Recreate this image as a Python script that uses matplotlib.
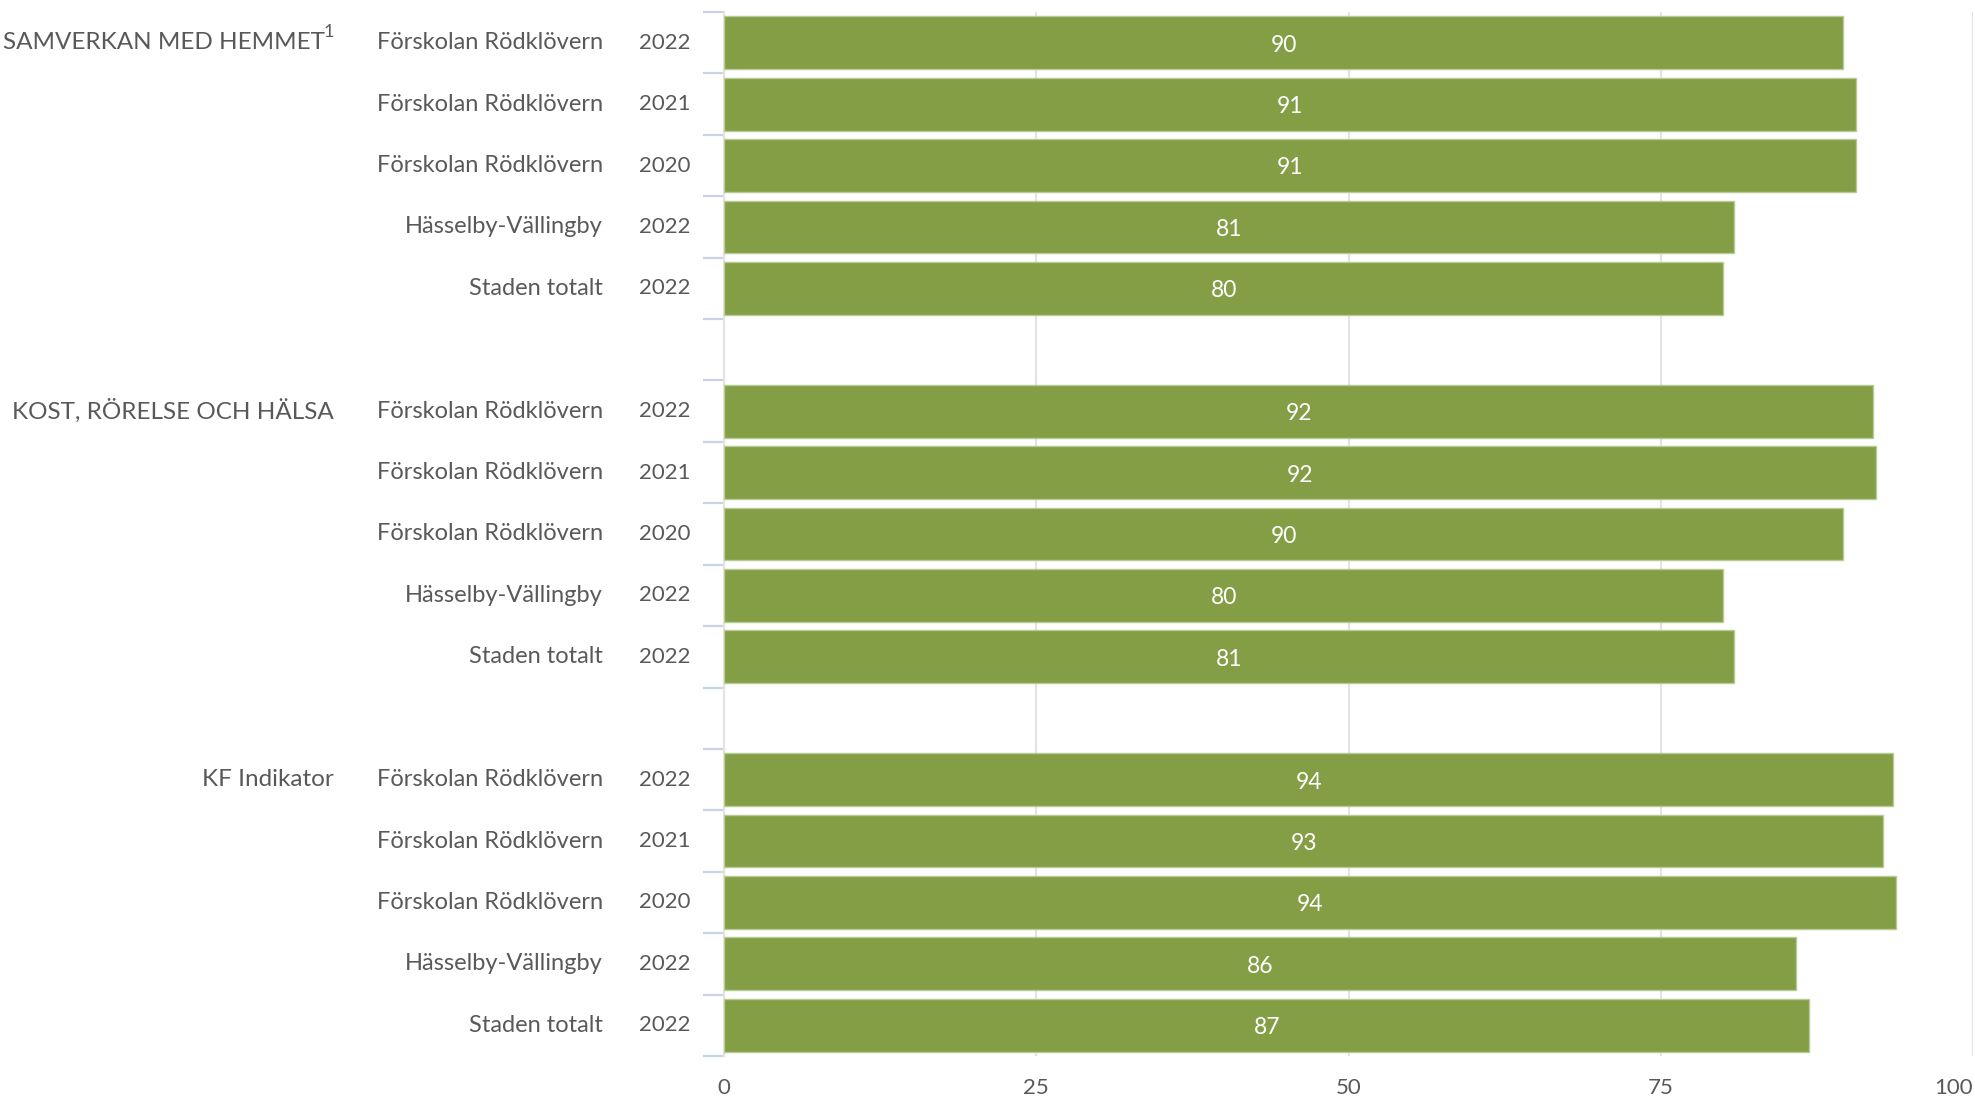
import numpy as np
import matplotlib
matplotlib.use("Agg")
import matplotlib.pyplot as plt
from matplotlib.transforms import blended_transform_factory

plt.rcParams['font.family'] = ['Lato', 'DejaVu Sans']

# data
groups = ["SAMVERKAN MED HEMMET", "KOST, RÖRELSE OCH HÄLSA", "KF Indikator"]
units = ["Förskolan Rödklövern", "Förskolan Rödklövern", "Förskolan Rödklövern",
         "Hässelby-Vällingby", "Staden totalt"]
years = ["2022", "2021", "2020", "2022", "2022"]
samverkan = [89.6, 90.6, 90.6, 80.9, 80.0]
kost = [92.0, 92.2, 89.6, 80.0, 80.9]
kf = [93.6, 92.8, 93.8, 85.8, 86.9]
xticks = [0, 25, 50, 75, 100]

W, H = 1975, 1098
fig = plt.figure(figsize=(W / 100, H / 100), dpi=100)
ax_left, ax_right, ax_top, ax_bot = 724, 1973, 12, 1056
ax = fig.add_axes([ax_left / W, 1 - ax_bot / H, (ax_right - ax_left) / W, (ax_bot - ax_top) / H])

bar_col = '#839E45'
text_col = '#595959'

all_vals = [samverkan, kost, kf]
for g, vals in enumerate(all_vals):
    ys = np.arange(len(vals)) + g * 6
    ax.barh(ys, vals, height=0.86, color=bar_col, edgecolor='#B8CB94', linewidth=1, zorder=3)
    for y, v in zip(ys, vals):
        ax.text(v / 2, y + 0.04, f"{v:.0f}", ha='center', va='center', color='white',
                fontsize=16.5, zorder=4)

ax.set_xlim(0, 100)
ax.set_ylim(16.5, -0.5)

# vertical gridlines
ax.set_xticks(xticks)
ax.xaxis.grid(True, color='#E3E3E3', linewidth=1.5, zorder=0)
ax.tick_params(axis='x', length=0, pad=16, labelsize=16, labelcolor=text_col)
lbls = ax.get_xticklabels()
lbls[-1].set_horizontalalignment('right')

# y ticks at row boundaries
ax.set_yticks(np.arange(18) - 0.5)
ax.set_yticklabels([])
ax.tick_params(axis='y', length=15, width=1.6, color='#C9D3E8')

for s in ['top', 'right', 'bottom']:
    ax.spines[s].set_visible(False)
ax.spines['left'].set_color('#E3E3E3')
ax.spines['left'].set_linewidth(1.5)

# row labels (positions in pixels converted to axes fraction)
def fx(px):
    return (px - ax_left) / (ax_right - ax_left)

trans = blended_transform_factory(ax.transAxes, ax.transData)
for g, name in enumerate(groups):
    for i in range(5):
        y = g * 6 + i
        ax.text(fx(690), y, years[i], transform=trans, ha='right', va='center',
                fontsize=16, color=text_col)
        ax.text(fx(603), y, units[i], transform=trans, ha='right', va='center',
                fontsize=17, color=text_col)
    if g == 0:
        ax.text(fx(325), g * 6, name, transform=trans, ha='right', va='center',
                fontsize=17.5, color=text_col)
        ax.text(fx(334), g * 6 - 0.18, "1", transform=trans, ha='right', va='center',
                fontsize=13, color=text_col)
    else:
        ax.text(fx(334), g * 6, name, transform=trans, ha='right', va='center',
                fontsize=17.5, color=text_col)

fig.savefig("out.png", dpi=100)
